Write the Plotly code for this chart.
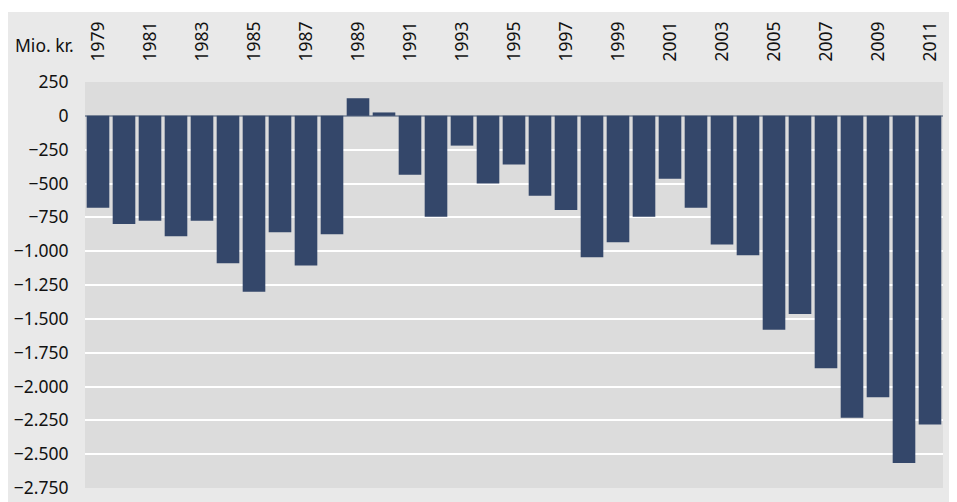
import plotly.graph_objects as go

years = list(range(1979, 2012))
values = [-680, -800, -775, -890, -775, -1090, -1300, -860, -1105, -875,
          130, 25, -435, -745, -220, -500, -360, -590, -695, -1045,
          -935, -745, -465, -680, -950, -1030, -1580, -1465, -1865, -2230,
          -2080, -2565, -2280]
tick_years = list(range(1979, 2012, 2))
y_ticks = list(range(-2750, 251, 250))
unit_label = "Mio. kr."

# page has an 8px body margin, so the figure is sized to fit the 957x502 window
W, H = 949, 494
L, R, T, B = 77, 14, 74, 14
pw, ph = W - L - R, H - T - B

def px_x(p):
    return (p - L) / pw

def px_y(p):
    return (H - B - p) / ph

font_family = "Noto Sans, Open Sans, sans-serif"
fsize = 17.5

fig = go.Figure(go.Bar(
    x=years, y=values,
    marker=dict(color="#34476a", line=dict(width=0)),
    hoverinfo="x+y",
))

fig.update_layout(
    width=W, height=H,
    margin=dict(l=L, r=R, t=T, b=B, pad=0, autoexpand=False),
    paper_bgcolor="#e9e9e9",
    plot_bgcolor="#dcdcdc",
    bargap=0.13,
    separators=",.",
    showlegend=False,
    font=dict(family=font_family, size=fsize, color="#111111"),
    xaxis=dict(
        side="top",
        automargin=False,
        range=[1978.5, 2011.5],
        tickmode="array",
        tickvals=tick_years,
        ticktext=[str(y) for y in tick_years],
        tickangle=-90,
        ticks="outside", ticklen=16, tickcolor="rgba(0,0,0,0)",
        showgrid=False, zeroline=False, showline=False,
        fixedrange=True,
    ),
    yaxis=dict(
        automargin=False,
        range=[-2750, 250],
        tickmode="array",
        tickvals=y_ticks,
        tickformat=",d",
        separatethousands=True,
        ticks="outside", ticklen=12, tickcolor="rgba(0,0,0,0)",
        showgrid=True, gridcolor="#ffffff", gridwidth=2,
        zeroline=True, zerolinecolor="#8c96a5", zerolinewidth=1.5,
        showline=False,
        fixedrange=True,
    ),
    shapes=[
        dict(type="rect", xref="paper", yref="paper", x0=-1, x1=2,
             y0=px_y(4), y1=2, fillcolor="#ffffff", line=dict(width=0), layer="below"),
    ],
    annotations=[
        dict(text=unit_label, xref="paper", yref="paper",
             x=px_x(5), y=px_y(37), xanchor="left", yanchor="middle",
             showarrow=False, font=dict(size=fsize)),
    ],
)

fig.write_html("out.html")
